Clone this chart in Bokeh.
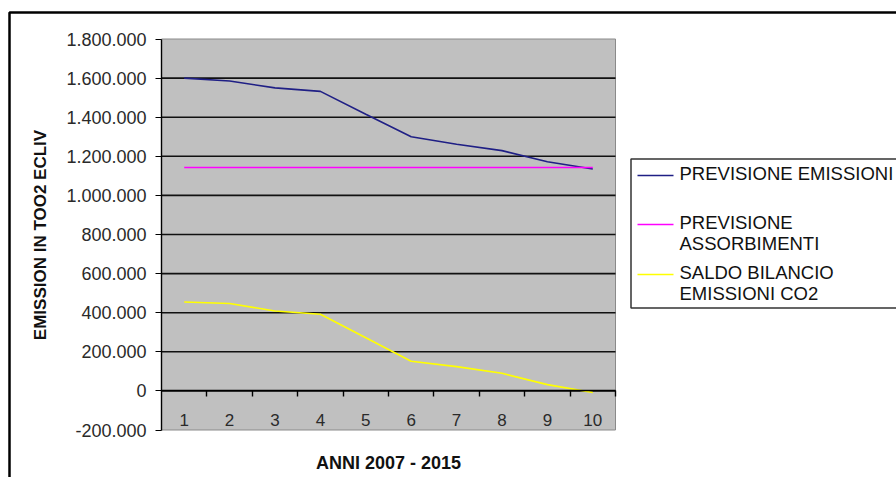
from bokeh.plotting import figure
from bokeh.models import FixedTicker, LinearAxis, Range1d
from bokeh.core.properties import value
from bokeh.embed import file_html
from bokeh.resources import INLINE

# ---- data -------------------------------------------------------------
anni = [1, 2, 3, 4, 5, 6, 7, 8, 9, 10]
previsione_emissioni = [1600000, 1585000, 1550000, 1532000, 1415000,
                        1300000, 1262000, 1229000, 1172000, 1135000]
previsione_assorbimenti = [1143000, 1143000, 1143000, 1143000, 1143000,
                           1143000, 1143000, 1143000, 1143000, 1143000]
saldo_bilancio = [455000, 447000, 409000, 392000, 272000,
                  152000, 124000, 90000, 32000, -8000]

y_ticks = [-200000, 0, 200000, 400000, 600000, 800000,
           1000000, 1200000, 1400000, 1600000, 1800000]
y_tick_labels = ["-200.000", "0", "200.000", "400.000", "600.000", "800.000",
                 "1.000.000", "1.200.000", "1.400.000", "1.600.000", "1.800.000"]

series_labels = [["PREVISIONE EMISSIONI"],
                 ["PREVISIONE", "ASSORBIMENTI"],
                 ["SALDO BILANCIO", "EMISSIONI CO2"]]
series_colors = ["#1f1f85", "#ff00ff", "#ffff00"]

x_title = "ANNI 2007 - 2015"
y_title = "EMISSION IN TOO2 ECLIV"

FONT = "Liberation Sans"

# ---- page geometry ----------------------------------------------------
W, H = 896, 477
PL, PR, PT, PB = 161, 615, 38.5, 429.5          # plot area box in pixels
x0, x1 = anni[0] - 0.5, anni[-1] + 0.5           # category band edges
y0, y1 = y_ticks[0], y_ticks[-1]
sx = (PR - PL) / (x1 - x0)
sy = (PB - PT) / (y1 - y0)


def X(px):
    return x0 + (px - PL) / sx


def Y(py):
    return y1 - (py - PT) / sy


p = figure(width=W, height=H,
           x_range=Range1d(X(0), X(W)), y_range=Range1d(Y(H), Y(0)),
           x_axis_type=None, y_axis_type=None,
           min_border=0, min_border_left=0, min_border_right=0,
           min_border_top=0, min_border_bottom=0,
           output_backend="svg", toolbar_location=None)
p.background_fill_color = "white"
p.border_fill_color = "white"
p.outline_line_color = None

# grey plot area
area = p.quad(left=[x0], right=[x1], bottom=[y0], top=[y1],
              fill_color="#c0c0c0", line_color="#8a8a8a", line_width=1)
area.level = "image"

# horizontal black grid lines on the inner ticks, limited to the plot area
inner = y_ticks[1:-1]
p.segment(x0=[x0] * len(inner), x1=[x1] * len(inner), y0=inner, y1=inner,
          line_color="#111111", line_width=1.6)

# y axis on the left edge of the plot area
yaxis = LinearAxis(fixed_location=x0, bounds=(y0, y1),
                   ticker=FixedTicker(ticks=y_ticks),
                   major_label_overrides={t: s for t, s in zip(y_ticks, y_tick_labels)},
                   minor_tick_line_color=None,
                   major_tick_in=0, major_tick_out=6,
                   major_tick_line_color="black",
                   axis_line_color="black", axis_line_width=1.4,
                   major_label_standoff=9,
                   major_label_text_font=FONT,
                   major_label_text_font_size="18px",
                   major_label_text_color="#2a2a2a",
                   axis_label=y_title,
                   axis_label_text_font=FONT,
                   axis_label_text_font_style="bold",
                   axis_label_text_font_size="17px",
                   axis_label_text_color="#111111",
                   axis_label_standoff=13)
p.add_layout(yaxis, "left")

# x axis crossing at zero: labels on the categories, ticks on the boundaries
bounds = [a + 0.5 for a in anni]
xaxis = LinearAxis(fixed_location=0, bounds=(x0, x1),
                   ticker=FixedTicker(ticks=anni, minor_ticks=bounds),
                   major_tick_in=0, major_tick_out=0,
                   minor_tick_in=0, minor_tick_out=6,
                   minor_tick_line_color="black", minor_tick_line_width=1.4,
                   axis_line_color="black", axis_line_width=1.4,
                   major_label_standoff=17,
                   major_label_text_font=FONT,
                   major_label_text_font_size="17px",
                   major_label_text_color="#2a2a2a",
                   axis_label=x_title,
                   axis_label_text_font=FONT,
                   axis_label_text_font_style="bold",
                   axis_label_text_font_size="18px",
                   axis_label_text_color="#111111",
                   axis_label_standoff=24)
p.add_layout(xaxis, "below")

# series
for ys, col in zip([previsione_emissioni, previsione_assorbimenti, saldo_bilancio],
                   series_colors):
    p.line(anni, ys, line_color=col, line_width=1.6)

# ---- outer frame --------------------------------------------------------
p.line(x=[X(9), X(9), X(W + 20)], y=[Y(H + 20), Y(12), Y(12)],
       line_color="black", line_width=2.5)

# ---- legend ---------------------------------------------------------------
p.quad(left=[X(630.5)], right=[X(W + 20)], top=[Y(158.5)], bottom=[Y(307.5)],
       fill_color="white", line_color="#333333", line_width=1.5)

entry_tops = [173, 222, 272]
line_gap = 21
for lines, col, ty in zip(series_labels, series_colors, entry_tops):
    p.line(x=[X(637), X(673)], y=[Y(ty + 2), Y(ty + 2)],
           line_color=col, line_width=1.6)
    p.text(x=[X(679)] * len(lines), y=[Y(ty + i * line_gap) for i in range(len(lines))],
           text=lines, text_baseline="middle", text_align="left",
           text_font=value(FONT), text_font_size="18.5px", text_color="#111111")

open("out.html", "w").write(file_html(p, INLINE))
